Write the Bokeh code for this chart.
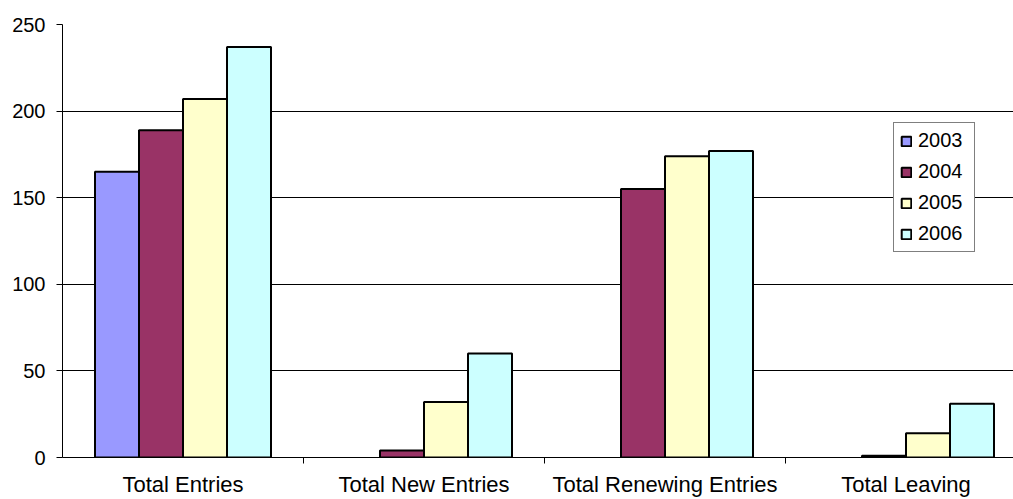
from bokeh.plotting import figure
from bokeh.models import ColumnDataSource, Range1d, FixedTicker, Legend
from bokeh.transform import dodge
from bokeh.embed import file_html
from bokeh.resources import INLINE
import numpy as np

categories = ["Total Entries", "Total New Entries", "Total Renewing Entries", "Total Leaving"]
years = ["2003", "2004", "2005", "2006"]
v2003 = [165, None, None, None]
v2004 = [189, 4, 155, 1]
v2005 = [207, 32, 174, 14]
v2006 = [237, 60, 177, 31]
colors = ["#9999FF", "#993366", "#FFFFCC", "#CCFFFF"]
y_ticks = [0, 50, 100, 150, 200, 250]

FONT = "Liberation Sans"

p = figure(width=1013, height=499, output_backend="svg", toolbar_location=None,
           x_range=Range1d(0, 3.946), y_range=Range1d(0, 250),
           min_border_left=62, min_border_top=24, min_border_right=0, min_border_bottom=41)
p.outline_line_color = None
p.background_fill_color = "white"
p.border_fill_color = "white"

centers = np.arange(len(categories)) + 0.5
src = ColumnDataSource(dict(
    x=centers,
    y2003=[np.nan if v is None else v for v in v2003],
    y2004=v2004, y2005=v2005, y2006=v2006,
))

w = 0.1826
offsets = [-1.5 * w, -0.5 * w, 0.5 * w, 1.5 * w]
renderers = []
for yr, col, off in zip(years, colors, offsets):
    r = p.vbar(x=dodge("x", off, range=p.x_range), top="y" + yr, bottom=0, width=w, source=src,
               fill_color=col, line_color="black", line_width=2)
    renderers.append((yr, [r]))

legend = Legend(items=renderers, location=(831, 205))
legend.border_line_color = "black"
legend.border_line_width = 1
legend.background_fill_color = "white"
legend.background_fill_alpha = 1
legend.label_text_font = FONT
legend.label_text_font_size = "20px"
legend.label_text_color = "black"
legend.glyph_width = 12
legend.glyph_height = 12
legend.label_height = 22
legend.label_width = 50
legend.label_standoff = 6
legend.spacing = 8
legend.padding = 6
legend.margin = 0
p.add_layout(legend, "center")

# x axis
p.xaxis.ticker = FixedTicker(ticks=list(centers), minor_ticks=[1, 2, 3])
p.xaxis.major_label_overrides = {float(c): name for c, name in zip(centers, categories)}
p.xaxis.major_tick_line_color = None
p.xaxis.major_tick_out = 0
p.xaxis.major_tick_in = 0
p.xaxis.minor_tick_line_color = "#000000"
p.xaxis.minor_tick_out = 6
p.xaxis.minor_tick_in = 0
p.xaxis.axis_line_color = "#000000"
p.xaxis.major_label_text_font = FONT
p.xaxis.major_label_text_font_size = "22px"
p.xaxis.major_label_text_color = "black"
p.xaxis.major_label_standoff = 8
p.xgrid.grid_line_color = None

# y axis
p.yaxis.ticker = FixedTicker(ticks=y_ticks)
p.yaxis.major_tick_out = 6
p.yaxis.major_tick_in = 0
p.yaxis.minor_tick_line_color = None
p.yaxis.axis_line_color = "#000000"
p.yaxis.major_tick_line_color = "#000000"
p.yaxis.major_label_text_font = FONT
p.yaxis.major_label_text_font_size = "20px"
p.yaxis.major_label_text_color = "black"
p.yaxis.major_label_standoff = 11
p.ygrid.grid_line_color = "#000000"
p.ygrid.grid_line_width = 1

open("out.html", "w").write(file_html(p, INLINE))
